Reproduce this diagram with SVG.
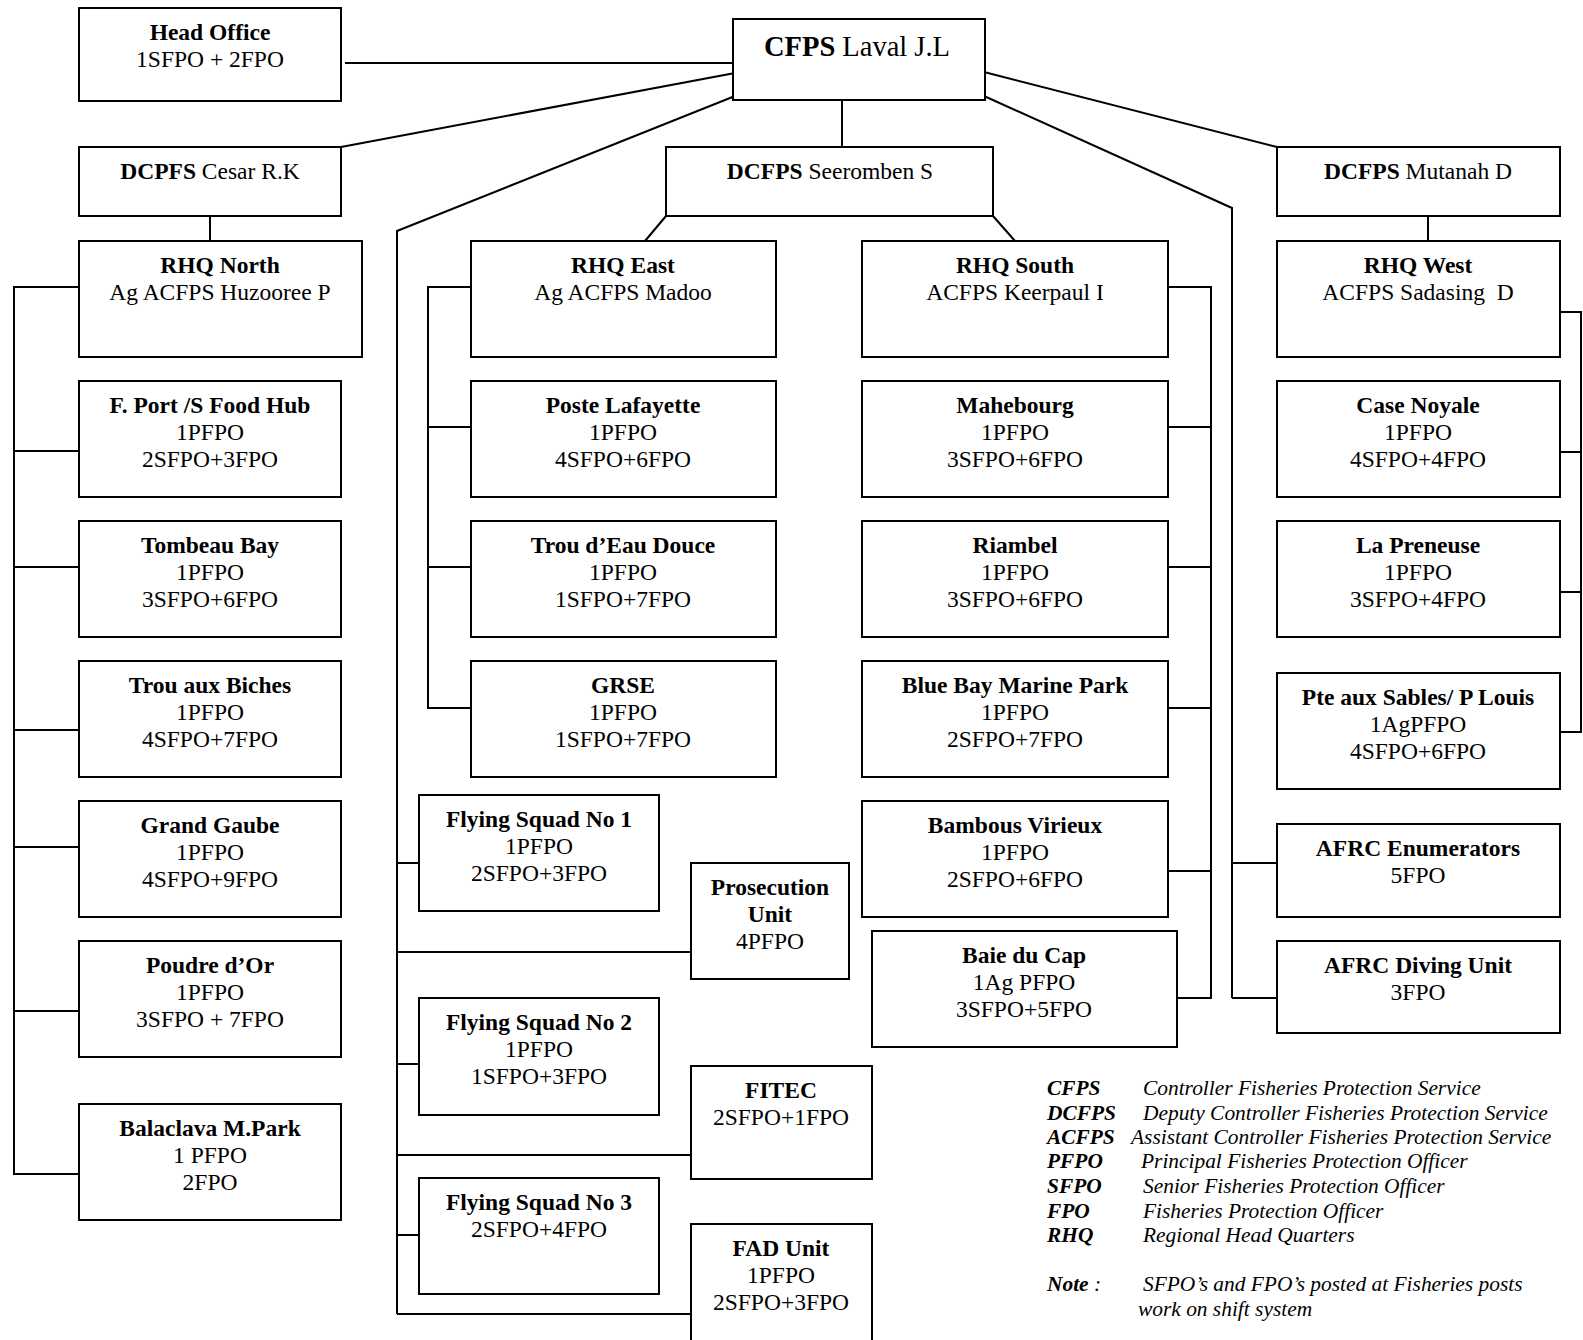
<svg xmlns="http://www.w3.org/2000/svg" width="1583" height="1340" viewBox="0 0 1583 1340">
<style>
  .box { fill: #fff; stroke: #000; stroke-width: 2; }
  .ln { fill: none; stroke: #000; stroke-width: 2; }
  text { font-family: "Liberation Serif", "Times New Roman", serif; font-size: 23.5px; fill: #000; text-anchor: middle; }
  .b { font-weight: bold; }
  .big { font-size: 28.5px; }
  .lg { font-size: 21.4px; font-style: italic; text-anchor: start; }
</style>
<rect x="0" y="0" width="1583" height="1340" fill="#fff"/>

<g id="connectors">
  <path class="ln" d="M345 63 H738"/>
  <path class="ln" d="M735 73 L341 147"/>
  <path class="ln" d="M735 96 L397 231 V1314"/>
  <path class="ln" d="M397 863 H419 M397 952 H691 M397 1064 H419 M397 1155 H691 M397 1235 H419 M397 1314 H691"/>
  <path class="ln" d="M842 100 V147"/>
  <path class="ln" d="M666 216 L645 241"/>
  <path class="ln" d="M993 216 L1015 241"/>
  <path class="ln" d="M984 72 L1277 147"/>
  <path class="ln" d="M984 96 L1232 208 V998"/>
  <path class="ln" d="M1232 863 H1277 M1232 998 H1277"/>
  <path class="ln" d="M210 216 V241"/>
  <path class="ln" d="M1428 216 V241"/>
  <path class="ln" d="M79 287 H14 V1174 H79 M14 451 H79 M14 567 H79 M14 730 H79 M14 847 H79 M14 1011 H79"/>
  <path class="ln" d="M471 287 H428 V708 H471 M428 427 H471 M428 567 H471"/>
  <path class="ln" d="M1168 287 H1211 V998 H1165 M1168 427 H1211 M1168 567 H1211 M1168 708 H1211 M1168 871 H1211"/>
  <path class="ln" d="M1560 312 H1581 V732 H1560 M1560 452 H1581 M1560 592 H1581"/>
</g>

<g id="head-office"><rect class="box" x="79" y="8" width="262" height="93"/>
  <text x="210" y="40" class="b">Head Office</text><text x="210" y="67">1SFPO + 2FPO</text></g>
<g id="cfps"><rect class="box" x="733" y="19" width="252" height="81"/>
  <text x="857" y="56" class="big"><tspan class="b">CFPS</tspan> Laval J.L</text></g>
<g id="dcpfs-cesar"><rect class="box" x="79" y="147" width="262" height="69"/>
  <text x="210" y="179"><tspan class="b">DCPFS</tspan> Cesar R.K</text></g>
<g id="dcfps-seeromben"><rect class="box" x="666" y="147" width="327" height="69"/>
  <text x="830" y="179"><tspan class="b">DCFPS</tspan> Seeromben S</text></g>
<g id="dcfps-mutanah"><rect class="box" x="1277" y="147" width="283" height="69"/>
  <text x="1418" y="179"><tspan class="b">DCFPS</tspan> Mutanah D</text></g>

<g id="rhq-north"><rect class="box" x="79" y="241" width="283" height="116"/>
  <text x="220" y="273" class="b">RHQ North</text><text x="220" y="300">Ag ACFPS Huzooree P</text></g>
<g id="rhq-east"><rect class="box" x="471" y="241" width="305" height="116"/>
  <text x="623" y="273" class="b">RHQ East</text><text x="623" y="300">Ag ACFPS Madoo</text></g>
<g id="rhq-south"><rect class="box" x="862" y="241" width="306" height="116"/>
  <text x="1015" y="273" class="b">RHQ South</text><text x="1015" y="300">ACFPS Keerpaul I</text></g>
<g id="rhq-west"><rect class="box" x="1277" y="241" width="283" height="116"/>
  <text x="1418" y="273" class="b">RHQ West</text><text x="1418" y="300">ACFPS Sadasing&#160; D</text></g>

<g id="fport"><rect class="box" x="79" y="381" width="262" height="116"/>
  <text x="210" y="413" class="b">F. Port /S Food Hub</text><text x="210" y="440">1PFPO</text><text x="210" y="467">2SFPO+3FPO</text></g>
<g id="poste-lafayette"><rect class="box" x="471" y="381" width="305" height="116"/>
  <text x="623" y="413" class="b">Poste Lafayette</text><text x="623" y="440">1PFPO</text><text x="623" y="467">4SFPO+6FPO</text></g>
<g id="mahebourg"><rect class="box" x="862" y="381" width="306" height="116"/>
  <text x="1015" y="413" class="b">Mahebourg</text><text x="1015" y="440">1PFPO</text><text x="1015" y="467">3SFPO+6FPO</text></g>
<g id="case-noyale"><rect class="box" x="1277" y="381" width="283" height="116"/>
  <text x="1418" y="413" class="b">Case Noyale</text><text x="1418" y="440">1PFPO</text><text x="1418" y="467">4SFPO+4FPO</text></g>

<g id="tombeau-bay"><rect class="box" x="79" y="521" width="262" height="116"/>
  <text x="210" y="553" class="b">Tombeau Bay</text><text x="210" y="580">1PFPO</text><text x="210" y="607">3SFPO+6FPO</text></g>
<g id="trou-eau-douce"><rect class="box" x="471" y="521" width="305" height="116"/>
  <text x="623" y="553" class="b">Trou d’Eau Douce</text><text x="623" y="580">1PFPO</text><text x="623" y="607">1SFPO+7FPO</text></g>
<g id="riambel"><rect class="box" x="862" y="521" width="306" height="116"/>
  <text x="1015" y="553" class="b">Riambel</text><text x="1015" y="580">1PFPO</text><text x="1015" y="607">3SFPO+6FPO</text></g>
<g id="la-preneuse"><rect class="box" x="1277" y="521" width="283" height="116"/>
  <text x="1418" y="553" class="b">La Preneuse</text><text x="1418" y="580">1PFPO</text><text x="1418" y="607">3SFPO+4FPO</text></g>

<g id="trou-aux-biches"><rect class="box" x="79" y="661" width="262" height="116"/>
  <text x="210" y="693" class="b">Trou aux Biches</text><text x="210" y="720">1PFPO</text><text x="210" y="747">4SFPO+7FPO</text></g>
<g id="grse"><rect class="box" x="471" y="661" width="305" height="116"/>
  <text x="623" y="693" class="b">GRSE</text><text x="623" y="720">1PFPO</text><text x="623" y="747">1SFPO+7FPO</text></g>
<g id="blue-bay"><rect class="box" x="862" y="661" width="306" height="116"/>
  <text x="1015" y="693" class="b">Blue Bay Marine Park</text><text x="1015" y="720">1PFPO</text><text x="1015" y="747">2SFPO+7FPO</text></g>
<g id="pte-aux-sables"><rect class="box" x="1277" y="673" width="283" height="116"/>
  <text x="1418" y="705" class="b">Pte aux Sables/ P Louis</text><text x="1418" y="732">1AgPFPO</text><text x="1418" y="759">4SFPO+6FPO</text></g>

<g id="grand-gaube"><rect class="box" x="79" y="801" width="262" height="116"/>
  <text x="210" y="833" class="b">Grand Gaube</text><text x="210" y="860">1PFPO</text><text x="210" y="887">4SFPO+9FPO</text></g>
<g id="flying-squad-1"><rect class="box" x="419" y="795" width="240" height="116"/>
  <text x="539" y="827" class="b">Flying Squad No 1</text><text x="539" y="854">1PFPO</text><text x="539" y="881">2SFPO+3FPO</text></g>
<g id="prosecution-unit"><rect class="box" x="691" y="863" width="158" height="116"/>
  <text x="770" y="895" class="b">Prosecution</text><text x="770" y="922" class="b">Unit</text><text x="770" y="949">4PFPO</text></g>
<g id="bambous-virieux"><rect class="box" x="862" y="801" width="306" height="116"/>
  <text x="1015" y="833" class="b">Bambous Virieux</text><text x="1015" y="860">1PFPO</text><text x="1015" y="887">2SFPO+6FPO</text></g>
<g id="afrc-enumerators"><rect class="box" x="1277" y="824" width="283" height="93"/>
  <text x="1418" y="856" class="b">AFRC Enumerators</text><text x="1418" y="883">5FPO</text></g>

<g id="baie-du-cap"><rect class="box" x="872" y="931" width="305" height="116"/>
  <text x="1024" y="963" class="b">Baie du Cap</text><text x="1024" y="990">1Ag PFPO</text><text x="1024" y="1017">3SFPO+5FPO</text></g>
<g id="afrc-diving-unit"><rect class="box" x="1277" y="941" width="283" height="92"/>
  <text x="1418" y="973" class="b">AFRC Diving Unit</text><text x="1418" y="1000">3FPO</text></g>
<g id="poudre-dor"><rect class="box" x="79" y="941" width="262" height="116"/>
  <text x="210" y="973" class="b">Poudre d’Or</text><text x="210" y="1000">1PFPO</text><text x="210" y="1027">3SFPO + 7FPO</text></g>
<g id="flying-squad-2"><rect class="box" x="419" y="998" width="240" height="117"/>
  <text x="539" y="1030" class="b">Flying Squad No 2</text><text x="539" y="1057">1PFPO</text><text x="539" y="1084">1SFPO+3FPO</text></g>
<g id="fitec"><rect class="box" x="691" y="1066" width="181" height="113"/>
  <text x="781" y="1098" class="b">FITEC</text><text x="781" y="1125">2SFPO+1FPO</text></g>
<g id="balaclava"><rect class="box" x="79" y="1104" width="262" height="116"/>
  <text x="210" y="1136" class="b">Balaclava M.Park</text><text x="210" y="1163">1 PFPO</text><text x="210" y="1190">2FPO</text></g>
<g id="flying-squad-3"><rect class="box" x="419" y="1178" width="240" height="116"/>
  <text x="539" y="1210" class="b">Flying Squad No 3</text><text x="539" y="1237">2SFPO+4FPO</text></g>
<g id="fad-unit"><rect class="box" x="691" y="1224" width="181" height="125"/>
  <text x="781" y="1256" class="b">FAD Unit</text><text x="781" y="1283">1PFPO</text><text x="781" y="1310">2SFPO+3FPO</text></g>

<g id="legend">
  <text class="lg b" x="1047" y="1095">CFPS</text><text class="lg" x="1143" y="1095">Controller Fisheries Protection Service</text>
  <text class="lg b" x="1047" y="1120">DCFPS</text><text class="lg" x="1143" y="1120">Deputy Controller Fisheries Protection Service</text>
  <text class="lg b" x="1047" y="1144">ACFPS</text><text class="lg" x="1131" y="1144">Assistant Controller Fisheries Protection Service</text>
  <text class="lg b" x="1047" y="1168">PFPO</text><text class="lg" x="1141" y="1168">Principal Fisheries Protection Officer</text>
  <text class="lg b" x="1047" y="1193">SFPO</text><text class="lg" x="1143" y="1193">Senior Fisheries Protection Officer</text>
  <text class="lg b" x="1047" y="1218">FPO</text><text class="lg" x="1143" y="1218">Fisheries Protection Officer</text>
  <text class="lg b" x="1047" y="1242">RHQ</text><text class="lg" x="1143" y="1242">Regional Head Quarters</text>
  <text class="lg" x="1047" y="1291"><tspan class="b">Note</tspan> :</text><text class="lg" x="1143" y="1291">SFPO’s and FPO’s posted at Fisheries posts</text>
  <text class="lg" x="1138" y="1316">work on shift system</text>
</g>
</svg>
